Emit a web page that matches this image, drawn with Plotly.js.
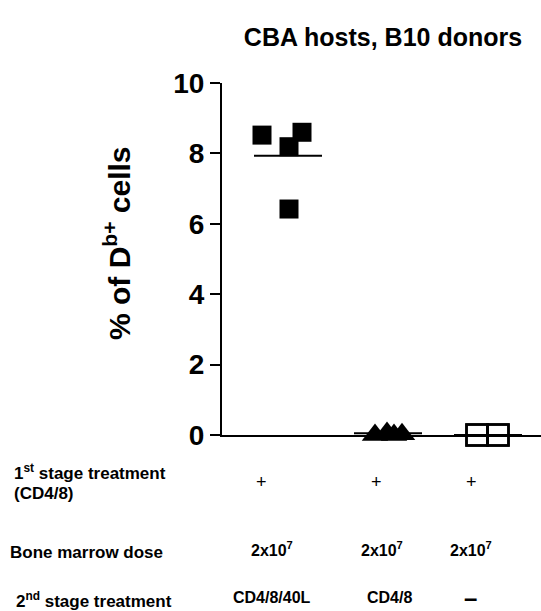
<!DOCTYPE html>
<html>
<head>
<meta charset="utf-8">
<script src="https://cdn.plot.ly/plotly-3.0.1.min.js"></script>
<style>
  html, body { margin: 0; padding: 0; background: #fff; }
  #chart { width: 541px; height: 611px; }
</style>
</head>
<body>
<div id="chart"></div>
<script>
// ---- data ----
const groupNames = ["CD4/8/40L", "CD4/8", "none"];
const groupPos = [1, 2, 3];

const g1X = [0.74, 1.01, 1.14, 1.01];
const g1Y = [8.52, 8.19, 8.60, 6.42];
const g1Mean = 7.93;

const g2X = [1.87, 1.99, 2.06, 2.14];
const g2Y = [0.00, 0.06, 0.00, 0.02];
const g2Mean = 0.05;

const g3X = [2.89, 2.89, 3.10, 3.10];
const g3Y = [0, 0, 0, 0];
const g3Mean = 0;

const row1Label = "1<sup>st</sup> stage treatment";
const row1Label2 = "(CD4/8)";
const row2Label = "Bone marrow dose";
const row3Label = "2<sup>nd</sup> stage treatment";
const row1Vals = ["+", "+", "+"];
const row2Vals = ["2x10<sup>7</sup>", "2x10<sup>7</sup>", "2x10<sup>7</sup>"];
const row3Vals = ["CD4/8/40L", "CD4/8", "–"];

const yTicks = [0, 2, 4, 6, 8, 10];

// ---- layout helpers ----
const W = 541, H = 611;
const M = {l: 222, r: 0, t: 83, b: 176};
const plotW = W - M.l - M.r, plotH = H - M.t - M.b;
const px = p => (p - M.l) / plotW;        // pixel x -> paper x
const py = p => (H - M.b - p) / plotH;     // pixel y -> paper y

const FONT = "Arial, 'Liberation Sans', Helvetica, sans-serif";
const halfW = 0.34;

const traces = [
  {x: g1X, y: g1Y, type: "scatter", mode: "markers", cliponaxis: false,
   marker: {symbol: "square", size: 19, color: "#000"}, hoverinfo: "none"},
  {x: g2X, y: g2Y, type: "scatter", mode: "markers", cliponaxis: false,
   marker: {symbol: "triangle-up", size: 23, color: "#000"}, hoverinfo: "none"},
  {x: g3X, y: g3Y, type: "scatter", mode: "markers", cliponaxis: false,
   marker: {symbol: "square-open", size: 21, color: "#000", line: {width: 2.5, color: "#000"}}, hoverinfo: "none"},
];
const means = [g1Mean, g2Mean, g3Mean];
groupPos.forEach((g, i) => {
  traces.push({x: [g - halfW, g + halfW], y: [means[i], means[i]], type: "scatter", mode: "lines",
    cliponaxis: false, line: {color: "#000", width: 2}, hoverinfo: "none"});
});

const colX1 = [261, 376, 471];
const colX2 = [272, 382, 471];
const colX3 = [272, 389, 470];
const ann = [];
const addText = (text, xpix, ypix, size, bold, anchor, angle) => ann.push({
  text: text, xref: "paper", yref: "paper", x: px(xpix), y: py(ypix),
  xanchor: anchor || "center", yanchor: "middle", showarrow: false, align: "left",
  textangle: angle || 0,
  font: {family: FONT, size: size, color: "#000", weight: bold ? "bold" : "normal"}
});
addText(row1Label, 12, 472, 17, true, "left");
addText(row1Label2, 12, 493, 17, true, "left");
addText(row2Label, 8, 552, 17, true, "left");
addText(row3Label, 14, 600, 17, true, "left");
row1Vals.forEach((t, i) => addText(t, colX1[i], 482, 18, false));
row2Vals.forEach((t, i) => addText(t, colX2[i], 549, 16, true));
row3Vals.forEach((t, i) => addText(t, colX3[i], 597, i === 2 ? 24 : 16, true));
// y-axis title
addText("% of D<sup>b+</sup> cells", 117, 244, 30, true, "center", -90);

const layout = {
  width: W, height: H,
  margin: M,
  paper_bgcolor: "#fff", plot_bgcolor: "#fff",
  showlegend: false,
  font: {family: FONT, color: "#000"},
  title: {text: "CBA hosts, B10 donors", xref: "container", x: 383 / W, xanchor: "center",
          yref: "container", y: 1 - 37 / H, yanchor: "middle",
          font: {family: FONT, size: 25, color: "#000", weight: "bold"}},
  xaxis: {range: [0.34, 3.53], showgrid: false, zeroline: false, showline: true, linewidth: 2,
          linecolor: "#000", showticklabels: false, ticks: "", fixedrange: true},
  yaxis: {range: [0, 10], tickvals: yTicks, ticktext: yTicks.map(String), showgrid: false, zeroline: false,
          showline: true, linewidth: 2, linecolor: "#000", ticks: "outside", ticklen: 10, tickwidth: 2,
          tickcolor: "#000", tickfont: {family: FONT, size: 28, color: "#000", weight: "bold"},
          fixedrange: true},
  annotations: ann
};

Plotly.newPlot("chart", traces, layout, {staticPlot: true, displayModeBar: false});
</script>
</body>
</html>
